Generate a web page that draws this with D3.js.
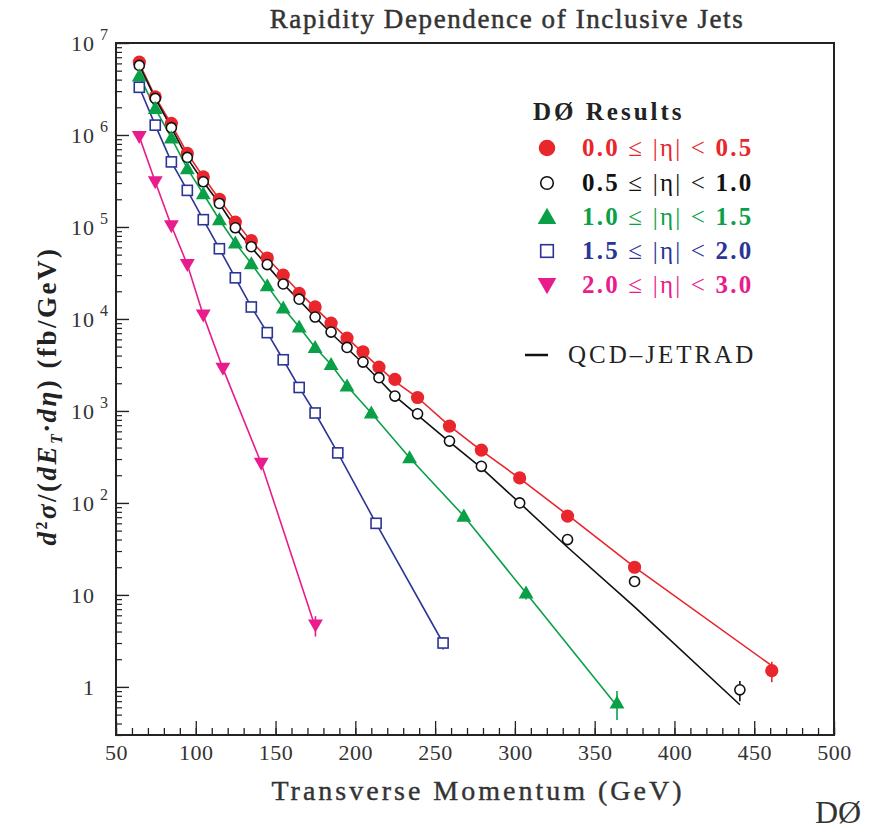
<!DOCTYPE html>
<html>
<head>
<meta charset="utf-8">
<script src="https://cdn.jsdelivr.net/npm/d3@7"></script>
<style>
  body { margin: 0; background: #fff; }
  text { font-family: "Liberation Serif", "DejaVu Serif", serif; }
</style>
</head>
<body>
<script>
// jet cross section vs E_T, one set of arrays per rapidity bin
var etaEdges = ["0.0", "0.5", "1.0", "1.5", "2.0", "3.0"];

var et0 = [64.6, 74.6, 84.7, 94.7, 104.7, 114.8, 124.8, 134.8, 144.8, 154.8, 164.8, 174.8, 184.8, 194.8, 204.8, 214.8, 224.8, 239, 259, 279, 303, 333, 375, 461];
var xs0 = [6.2e6, 2.6e6, 1.34e6, 6.3e5, 3.5e5, 2.0e5, 1.13e5, 7.1e4, 4.6e4, 3.0e4, 1.9e4, 1.35e4, 9.0e3, 6.2e3, 4.4e3, 3.0e3, 2.2e3, 1.4e3, 685, 375, 187, 72, 20, 1.5];
var th0 = [6.0e6, 2.6e6, 1.3e6, 6.3e5, 3.5e5, 2.0e5, 1.15e5, 7.0e4, 4.6e4, 3.0e4, 1.95e4, 1.32e4, 9.0e3, 6.2e3, 4.3e3, 3.0e3, 2.1e3, 1.4e3, 690, 370, 185, 74, 20, 1.7];
var er0 = [0, 0, 0, 0, 0, 0, 0, 0, 0, 0, 0, 0, 0, 0, 0, 0, 0, 0, 0, 0, 0.05, 0.08, 0.1, 0.25];

var et1 = [64.6, 74.6, 84.7, 94.7, 104.7, 114.8, 124.8, 134.8, 144.8, 154.8, 164.8, 174.8, 184.8, 194.8, 204.8, 214.8, 224.8, 239, 259, 279, 303, 333, 375, 441];
var xs1 = [5.7e6, 2.5e6, 1.2e6, 5.7e5, 3.1e5, 1.8e5, 9.8e4, 6.1e4, 3.9e4, 2.4e4, 1.64e4, 1.05e4, 7.2e3, 4.9e3, 3.4e3, 2.3e3, 1.45e3, 930, 470, 250, 100, 40, 14, 0.93];
var th1 = [5.7e6, 2.5e6, 1.2e6, 5.6e5, 3.1e5, 1.8e5, 9.8e4, 6.0e4, 3.8e4, 2.4e4, 1.6e4, 1.05e4, 7.0e3, 4.8e3, 3.3e3, 2.2e3, 1.45e3, 900, 460, 240, 100, 33, 7.4, 0.64];
var er1 = [0, 0, 0, 0, 0, 0, 0, 0, 0, 0, 0, 0, 0, 0, 0, 0, 0, 0, 0, 0, 0.05, 0.08, 0.1, 0.25];

var et2 = [64.6, 74.6, 84.7, 94.7, 104.7, 114.8, 124.8, 134.8, 144.8, 154.8, 164.8, 174.8, 184.8, 194.8, 210, 234, 268, 307, 364];
var xs2 = [4.4e6, 1.95e6, 9.3e5, 4.3e5, 2.3e5, 1.2e5, 6.7e4, 4.0e4, 2.3e4, 1.32e4, 8.2e3, 4.9e3, 3.2e3, 1.87e3, 950, 310, 72, 10.5, 0.67];
var th2 = [4.4e6, 1.95e6, 9.3e5, 4.3e5, 2.3e5, 1.2e5, 6.7e4, 4.0e4, 2.3e4, 1.32e4, 8.2e3, 4.9e3, 3.2e3, 1.87e3, 950, 310, 72, 10.5, 0.62];
var er2 = [0, 0, 0, 0, 0, 0, 0, 0, 0, 0, 0, 0, 0, 0, 0, 0.05, 0.08, 0.15, 0.35];

var et3 = [64.6, 74.6, 84.7, 94.7, 104.7, 114.8, 124.8, 134.8, 144.8, 154.8, 164.8, 174.8, 189, 213, 255];
var xs3 = [3.3e6, 1.28e6, 5.1e5, 2.5e5, 1.2e5, 5.8e4, 2.8e4, 1.35e4, 7.1e3, 3.6e3, 1.8e3, 950, 350, 60, 3.0];
var th3 = [3.3e6, 1.28e6, 5.1e5, 2.5e5, 1.2e5, 5.8e4, 2.8e4, 1.35e4, 7.1e3, 3.6e3, 1.8e3, 950, 350, 60, 3.0];
var er3 = [0, 0, 0, 0, 0, 0, 0, 0, 0, 0, 0, 0, 0.05, 0.08, 0.15];

var et4 = [64.6, 74.6, 84.7, 94.7, 104.7, 117, 141, 175];
var xs4 = [9.6e5, 3.1e5, 1.03e5, 3.9e4, 1.1e4, 2.9e3, 270, 4.7];
var th4 = [9.6e5, 3.1e5, 1.03e5, 3.9e4, 1.1e4, 2.9e3, 270, 4.4];
var er4 = [0, 0, 0, 0, 0, 0, 0.05, 0.25];

var colors = ["#e8262c", "#111111", "#0aa048", "#2b3596", "#e81c8c"];
var shapes = ["circle", "opencircle", "triangle", "square", "tridown"];

var xTicks = [50, 100, 150, 200, 250, 300, 350, 400, 450, 500];
var yTicks = [1e7, 1e6, 1e5, 1e4, 1e3, 1e2, 10, 1];

var series = [
  {et: et0, xs: xs0, th: th0, er: er0},
  {et: et1, xs: xs1, th: th1, er: er1},
  {et: et2, xs: xs2, th: th2, er: er2},
  {et: et3, xs: xs3, th: th3, er: er3},
  {et: et4, xs: xs4, th: th4, er: er4}
];

var W = 877, H = 830;
var pLeft = 116, pRight = 834, pTop = 43, pBottom = 735;

var svg = d3.select("body").append("svg")
    .attr("width", W)
    .attr("height", H);

var x = d3.scaleLinear().domain([50, 500]).range([pLeft, pRight]);
var y = d3.scaleLog().domain([0.3, 1e7]).range([pBottom, pTop]);

// minor ticks
var xMinor = d3.range(50, 501, 10);
var yMinor = [];
[0.1, 1, 10, 100, 1e3, 1e4, 1e5, 1e6].forEach(function(d){
    for (var k = 2; k <= 9; k++) {
        if (d * k >= 0.3) yMinor.push(d * k);
    }
});

svg.append("g")
    .attr("transform", "translate(0," + pBottom + ")")
    .call(d3.axisBottom(x).tickValues(xMinor).tickSize(-7).tickFormat(""))
    .call(function(g){ g.select(".domain").remove(); })
    .selectAll("line").attr("stroke", "#222").attr("stroke-width", 1.3);

svg.append("g")
    .attr("class", "xaxis")
    .attr("transform", "translate(0," + pBottom + ")")
    .call(d3.axisBottom(x).tickValues(xTicks).tickSize(-14).tickFormat(d3.format("d")))
    .call(function(g){ g.select(".domain").remove(); })
    .call(function(g){
        g.selectAll("line").attr("stroke", "#222").attr("stroke-width", 1.3);
        g.selectAll("text")
          .attr("y", 9)
          .style("font-family", "Liberation Serif, serif")
          .style("font-size", "22px")
          .style("letter-spacing", "0.5px")
          .attr("fill", "#333");
    });

svg.append("g")
    .attr("transform", "translate(" + pLeft + ",0)")
    .call(d3.axisLeft(y).tickValues(yMinor).tickSize(-6).tickFormat(""))
    .call(function(g){ g.select(".domain").remove(); })
    .selectAll("line").attr("stroke", "#222").attr("stroke-width", 1.2);

svg.append("g")
    .attr("transform", "translate(" + pLeft + ",0)")
    .call(d3.axisLeft(y).tickValues(yTicks).tickSize(-13).tickFormat(""))
    .call(function(g){ g.select(".domain").remove(); })
    .selectAll("line").attr("stroke", "#222").attr("stroke-width", 1.4);

// y tick labels 10^n
yTicks.forEach(function(v){
    var e = Math.round(Math.log10(v));
    var t = svg.append("text")
        .attr("x", 95)
        .attr("y", y(v) + 8)
        .attr("text-anchor", "end")
        .attr("fill", "#333")
        .style("font-size", "22px")
        .style("letter-spacing", "1px");
    if (e >= 2) {
        t.text("10");
        svg.append("text")
            .attr("x", 100)
            .attr("y", y(v) - 3)
            .attr("fill", "#333")
            .style("font-size", "16px")
            .text(e);
    } else {
        t.text(e == 1 ? "10" : "1");
    }
});

// frame
svg.append("rect")
    .attr("x", pLeft)
    .attr("y", pTop)
    .attr("width", pRight - pLeft)
    .attr("height", pBottom - pTop)
    .attr("fill", "none")
    .attr("stroke", "#222")
    .attr("stroke-width", 2);

// theory curves
var line = d3.line()
    .x(function(d){ return x(d[0]); })
    .y(function(d){ return y(d[1]); });

series.forEach(function(s, i){
    var pts = s.et.map(function(e, j){ return [e, s.th[j]]; });
    svg.append("path")
        .attr("d", line(pts))
        .attr("fill", "none")
        .attr("stroke", colors[i])
        .attr("stroke-width", 1.6);
});

// markers
function marker(g, shape, cx, cy, c, size) {
    if (shape == "circle") {
        g.append("circle").attr("cx", cx).attr("cy", cy).attr("r", size * 0.55)
         .attr("fill", c);
    } else if (shape == "opencircle") {
        g.append("circle").attr("cx", cx).attr("cy", cy).attr("r", size * 0.42)
         .attr("fill", "#fff").attr("stroke", c).attr("stroke-width", 1.6);
    } else if (shape == "triangle") {
        var a = size * 0.62;
        g.append("path")
         .attr("d", "M" + cx + "," + (cy - a) + "L" + (cx + a) + "," + (cy + a * 0.75) + "L" + (cx - a) + "," + (cy + a * 0.75) + "Z")
         .attr("fill", c);
    } else if (shape == "square") {
        var h = size * 0.42;
        g.append("rect").attr("x", cx - h).attr("y", cy - h).attr("width", 2 * h).attr("height", 2 * h)
         .attr("fill", "#fff").attr("stroke", c).attr("stroke-width", 1.6);
    } else {
        var b = size * 0.62;
        g.append("path")
         .attr("d", "M" + cx + "," + (cy + b) + "L" + (cx + b) + "," + (cy - b * 0.75) + "L" + (cx - b) + "," + (cy - b * 0.75) + "Z")
         .attr("fill", c);
    }
}

series.forEach(function(s, i){
    var g = svg.append("g");
    s.et.forEach(function(e, j){
        var v = s.xs[j];
        if (s.er[j] > 0) {
            g.append("line")
              .attr("x1", x(e)).attr("x2", x(e))
              .attr("y1", y(v * (1 + s.er[j]))).attr("y2", y(v * (1 - s.er[j])))
              .attr("stroke", colors[i]).attr("stroke-width", 1.6);
        }
        marker(g, shapes[i], x(e), y(v), colors[i], 12);
    });
});

// legend
svg.append("text")
    .attr("x", 533)
    .attr("y", 120)
    .style("font-size", "25px")
    .style("font-weight", "bold")
    .style("letter-spacing", "3px")
    .attr("fill", "#222")
    .text("DØ Results");

var legY = [148, 183, 217, 251, 285];
var lg = svg.append("g");
etaEdges.slice(0, 5).forEach(function(b, i){
    marker(lg, shapes[i], 547, legY[i], colors[i], 15);
    var t = lg.append("text")
        .attr("x", 582)
        .attr("y", legY[i] + 8)
        .attr("fill", colors[i])
        .style("font-size", "25px")
        .style("letter-spacing", "2.2px");
    t.append("tspan").style("font-weight", "bold").text(b);
    t.append("tspan").text(" ≤ |η| < ");
    t.append("tspan").style("font-weight", "bold").text(etaEdges[i + 1]);
});

lg.append("line")
    .attr("x1", 525).attr("x2", 548)
    .attr("y1", 355).attr("y2", 355)
    .attr("stroke", "#111").attr("stroke-width", 2.5);
lg.append("text")
    .attr("x", 568)
    .attr("y", 363)
    .attr("fill", "#222")
    .style("font-size", "25px")
    .style("letter-spacing", "3px")
    .text("QCD–JETRAD");

// titles
svg.append("text")
    .attr("x", 507)
    .attr("y", 28)
    .attr("text-anchor", "middle")
    .attr("fill", "#333")
    .attr("stroke", "#333")
    .attr("stroke-width", 0.5)
    .style("font-size", "27px")
    .style("letter-spacing", "1.6px")
    .text("Rapidity Dependence of Inclusive Jets");

svg.append("text")
    .attr("x", 478)
    .attr("y", 800)
    .attr("text-anchor", "middle")
    .attr("fill", "#333")
    .attr("stroke", "#333")
    .attr("stroke-width", 0.4)
    .style("font-size", "28px")
    .style("letter-spacing", "3px")
    .text("Transverse Momentum (GeV)");

svg.append("text")
    .attr("x", 838)
    .attr("y", 823)
    .attr("text-anchor", "middle")
    .attr("fill", "#333")
    .style("font-size", "32px")
    .text("DØ");

var yl = svg.append("text")
    .attr("transform", "translate(56,396) rotate(-90)")
    .attr("text-anchor", "middle")
    .attr("fill", "#222")
    .style("font-size", "27px")
    .style("letter-spacing", "2.5px")
    .style("font-weight", "bold");
yl.append("tspan").style("font-style", "italic").text("d");
yl.append("tspan").attr("dy", -9).style("font-size", "16px").text("2");
yl.append("tspan").attr("dy", 9).style("font-style", "italic").text("σ");
yl.append("tspan").text("/(");
yl.append("tspan").style("font-style", "italic").text("dE");
yl.append("tspan").attr("dy", 6).style("font-size", "16px").style("font-style", "italic").text("T");
yl.append("tspan").attr("dy", -6).style("font-style", "italic").text("·dη");
yl.append("tspan").text(") (fb/GeV)");
</script>
</body>
</html>
